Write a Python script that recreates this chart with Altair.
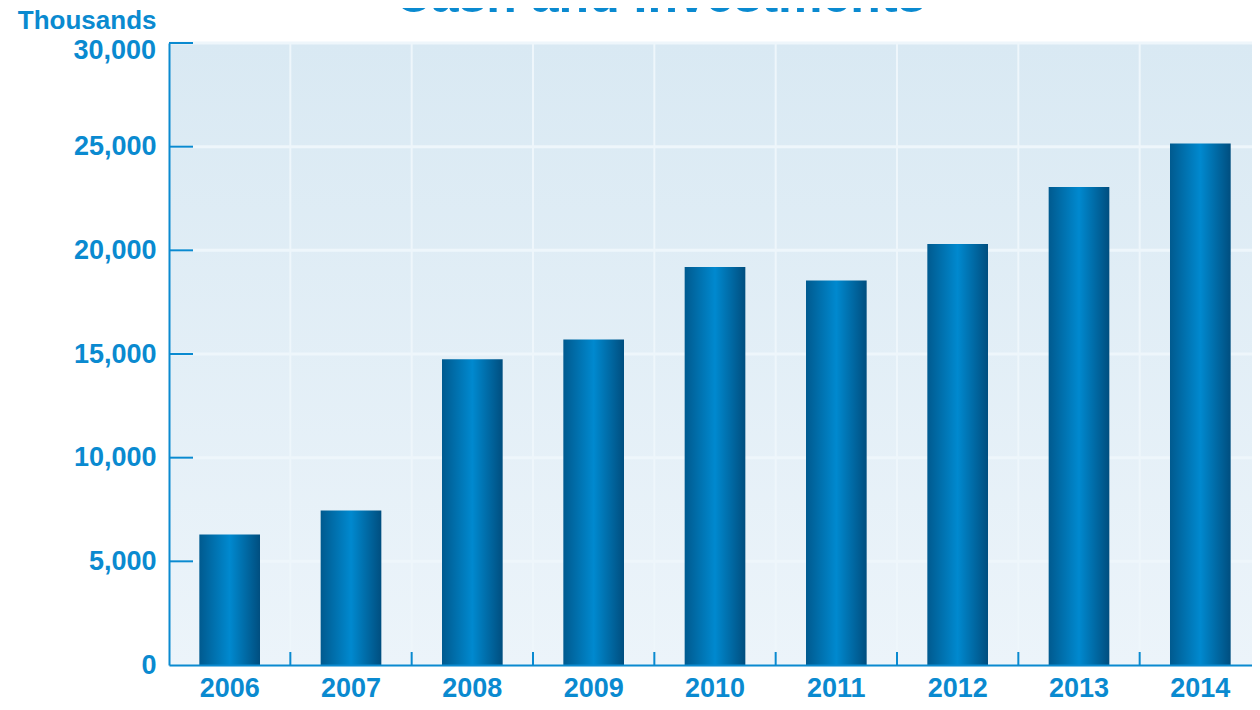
import altair as alt
import pandas as pd

# ---- data ----
years = ["2006", "2007", "2008", "2009", "2010", "2011", "2012", "2013", "2014"]
values = [6300, 7450, 14750, 15700, 19200, 18550, 20300, 23050, 25150]
y_ticks = [0, 5000, 10000, 15000, 20000, 25000, 30000]
title_text = "Cash and Investments"
unit_label = "Thousands"

# ---- styling ----
W, H = 1083, 622
RANGE_W = 1092
STEP = RANGE_W / 9.0
HALF_GAP = STEP * 0.25
BLUE = "#0a8ad0"
FONT = "Liberation Sans"
GRID = "#eef6fb"

df = pd.DataFrame({"year": years, "value": values})
grid_df = pd.DataFrame({"year": years[:-1]})   # boundary after each of these years
ytick_df = pd.DataFrame({"value": y_ticks})
ytick_inner_df = pd.DataFrame({"value": y_ticks[1:]})
top_label_df = pd.DataFrame({"value": y_ticks[-1:]})
one = pd.DataFrame({"a": [0]})

xscale = alt.Scale(domain=years, range=[0, RANGE_W], paddingInner=0.5, paddingOuter=0.25)
yscale = alt.Scale(domain=[0, 30000], nice=False)

x_axis = alt.Axis(
    labelFont=FONT, labelFontSize=27, labelFontWeight="bold", labelColor=BLUE,
    ticks=False, grid=False, domainColor=BLUE, domainWidth=2, labelPadding=10,
    labelAngle=0, title=None, zindex=1,
)
y_axis = alt.Axis(
    values=y_ticks[:-1], labelExpr="format(datum.value, ',')", labelFont=FONT,
    labelFontSize=27, labelFontWeight="bold", labelBaseline="middle",
    labelColor=BLUE, ticks=False, grid=False, domainColor=BLUE, domainWidth=2,
    labelPadding=13, labelFlush=False, title=unit_label, titleAngle=0, titleAlign="right",
    titleBaseline="alphabetic", titleX=-13, titleY=-15, titleFont=FONT, titleFontSize=26,
    titleFontWeight="bold", titleColor=BLUE, zindex=1,
)

bg = alt.Chart(one).mark_rect(
    color={"gradient": "linear", "x1": 0, "y1": 0, "x2": 0, "y2": 1,
           "stops": [{"offset": 0, "color": "#d9e9f3"}, {"offset": 1, "color": "#ecf4fa"}]}
).encode(x=alt.value(0), x2=alt.value(RANGE_W), y=alt.value(0), y2=alt.value(H))

hgrid = alt.Chart(ytick_df).mark_rule(color=GRID, strokeWidth=3).encode(
    y=alt.Y("value:Q", scale=yscale, axis=y_axis),
    x=alt.value(0), x2=alt.value(RANGE_W),
)

vgrid = alt.Chart(grid_df).mark_rule(color=GRID, strokeWidth=2, xOffset=HALF_GAP).encode(
    x=alt.X("year:N", bandPosition=1, scale=xscale, axis=x_axis),
    y=alt.value(0), y2=alt.value(H),
)

bars = alt.Chart(df).mark_bar(
    color={"gradient": "linear", "x1": 0, "y1": 0, "x2": 1, "y2": 0,
           "stops": [{"offset": 0, "color": "#005a8f"},
                     {"offset": 0.5, "color": "#0089cf"},
                     {"offset": 1, "color": "#004e7f"}]}
).encode(
    x=alt.X("year:N", scale=xscale, axis=x_axis),
    y=alt.Y("value:Q", scale=yscale, axis=y_axis),
)

yticks = alt.Chart(ytick_inner_df).mark_rule(color=BLUE, strokeWidth=2).encode(
    y=alt.Y("value:Q", scale=yscale, axis=y_axis),
    x=alt.value(0), x2=alt.value(24),
)

xticks = alt.Chart(grid_df).mark_rule(color=BLUE, strokeWidth=2, xOffset=HALF_GAP).encode(
    x=alt.X("year:N", bandPosition=1, scale=xscale, axis=x_axis),
    y=alt.value(H), y2=alt.value(H - 13),
)

# top y label (kept inside the frame, nudged down like the reference)
top_label = alt.Chart(top_label_df).mark_text(
    font=FONT, fontSize=27, fontWeight="bold", color=BLUE,
    align="right", baseline="middle", yOffset=8,
).encode(
    y=alt.Y("value:Q", scale=yscale, axis=y_axis),
    x=alt.value(-13),
    text=alt.Text("value:Q", format=","),
)

title = alt.Chart(one).mark_text(
    text=title_text, font=FONT, fontSize=50, fontWeight="bold", color=BLUE,
    align="center", baseline="alphabetic",
).encode(x=alt.value(491), y=alt.value(-31))

chart = alt.layer(bg, hgrid, vgrid, bars, yticks, xticks, top_label, title).properties(
    width=W, height=H,
    autosize=alt.AutoSizeParams(type="none"),
    padding={"left": 161, "top": 35, "right": 0, "bottom": 37},
).configure_view(strokeWidth=0)

chart.save("out.html", embed_options={"renderer": "svg", "actions": False})
